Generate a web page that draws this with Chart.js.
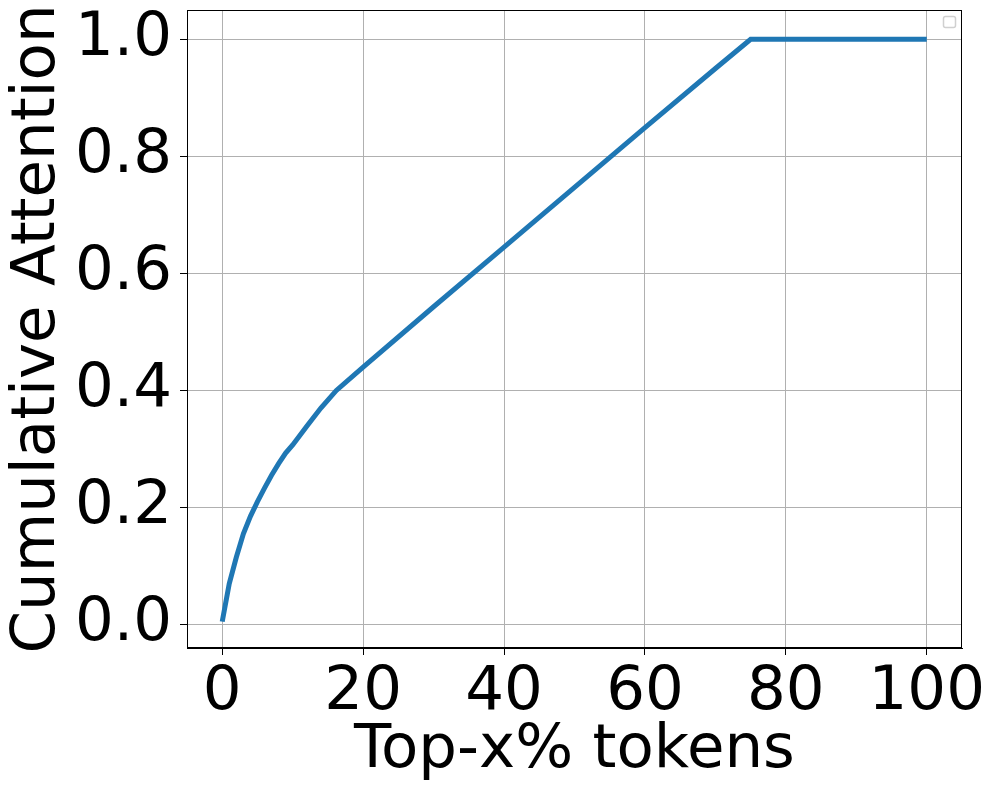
<!DOCTYPE html>
<html>
<head>
<meta charset="utf-8">
<script src="https://cdn.jsdelivr.net/npm/chart.js@4"></script>
<style>
  body { margin: 0; background: #fff; }
  #chart1 { display: block; }
</style>
</head>
<body>
<canvas id="chart1" width="997" height="796"></canvas>
<script>
// Chart Data
const topPercent = [0, 1, 2, 3, 4, 5, 6, 7, 8, 9, 10, 12, 14, 16.2, 20, 30, 40, 50, 60, 70, 75, 80, 90, 100];
const cumAttention = [0.005, 0.07, 0.115, 0.155, 0.185, 0.21, 0.233, 0.255, 0.275, 0.293, 0.307, 0.339, 0.37, 0.40, 0.44, 0.543, 0.645, 0.747, 0.849, 0.95, 1.0, 1.0, 1.0, 1.0];
const xTicks = [0, 20, 40, 60, 80, 100];
const yTicks = [0.0, 0.2, 0.4, 0.6, 0.8, 1.0];

const font = 'DejaVu Sans';

// frame on all four sides plus the empty legend box
const framePlugin = {
    id: 'frame',
    afterDraw(chart) {
        const a = chart.chartArea;
        const c = chart.ctx;
        c.save();
        c.strokeStyle = '#000';
        c.lineWidth = 1;
        c.strokeRect(a.left + 0.5, a.top + 0.5, a.right - a.left - 1, a.bottom - a.top - 1);
        // empty legend
        c.strokeStyle = '#d0d0d0';
        c.lineWidth = 1.5;
        c.beginPath();
        c.roundRect(943.5, 16.5, 12, 11, 2);
        c.stroke();
        c.restore();
    }
};

const ctx = document.getElementById('chart1').getContext('2d');
const chart1 = new Chart(ctx, {
    type: 'scatter',
    data: {
        datasets: [
            {
                data: topPercent.map((x, i) => ({ x: x, y: cumAttention[i] })),
                showLine: true,
                borderColor: '#1f77b4',
                backgroundColor: '#1f77b4',
                borderWidth: 5,
                pointRadius: 0,
                tension: 0,
            }
        ],
    },
    options: {
        responsive: false,
        animation: false,
        layout: { padding: { top: 10, right: 35, left: 0, bottom: 0 } },
        plugins: {
            legend: { display: false },
            tooltip: { enabled: false },
        },
        scales: {
            x: {
                type: 'linear',
                min: -5,
                max: 105,
                afterBuildTicks: (s) => { s.ticks = xTicks.map(v => ({ value: v })); },
                afterFit: (s) => { s.height = 148; s.paddingLeft = 0; s.paddingRight = 0; },
                grid: { color: '#b0b0b0', lineWidth: 1, tickColor: '#000', tickLength: 7 },
                border: { color: '#000', width: 1 },
                ticks: {
                    color: '#000',
                    font: { family: font, size: 61 },
                    padding: 2,
                    maxRotation: 0,
                },
                title: {
                    display: true,
                    text: 'Top-x% tokens',
                    color: '#000',
                    font: { family: font, size: 61 },
                    padding: { top: 0, bottom: 8 },
                },
            },
            y: {
                type: 'linear',
                min: -0.04,
                max: 1.05,
                afterBuildTicks: (s) => { s.ticks = yTicks.map(v => ({ value: v })); },
                afterFit: (s) => { s.width = 187; s.paddingTop = 0; s.paddingBottom = 0; },
                grid: { color: '#b0b0b0', lineWidth: 1, tickColor: '#000', tickLength: 7 },
                border: { color: '#000', width: 1 },
                ticks: {
                    color: '#000',
                    font: { family: font, size: 61 },
                    padding: 8,
                    callback: (v) => v.toFixed(1),
                },
                title: {
                    display: true,
                    text: 'Cumulative Attention',
                    color: '#000',
                    font: { family: font, size: 61 },
                    padding: { top: 2, bottom: 0 },
                },
            },
        },
    },
    plugins: [framePlugin],
});
</script>
</body>
</html>
